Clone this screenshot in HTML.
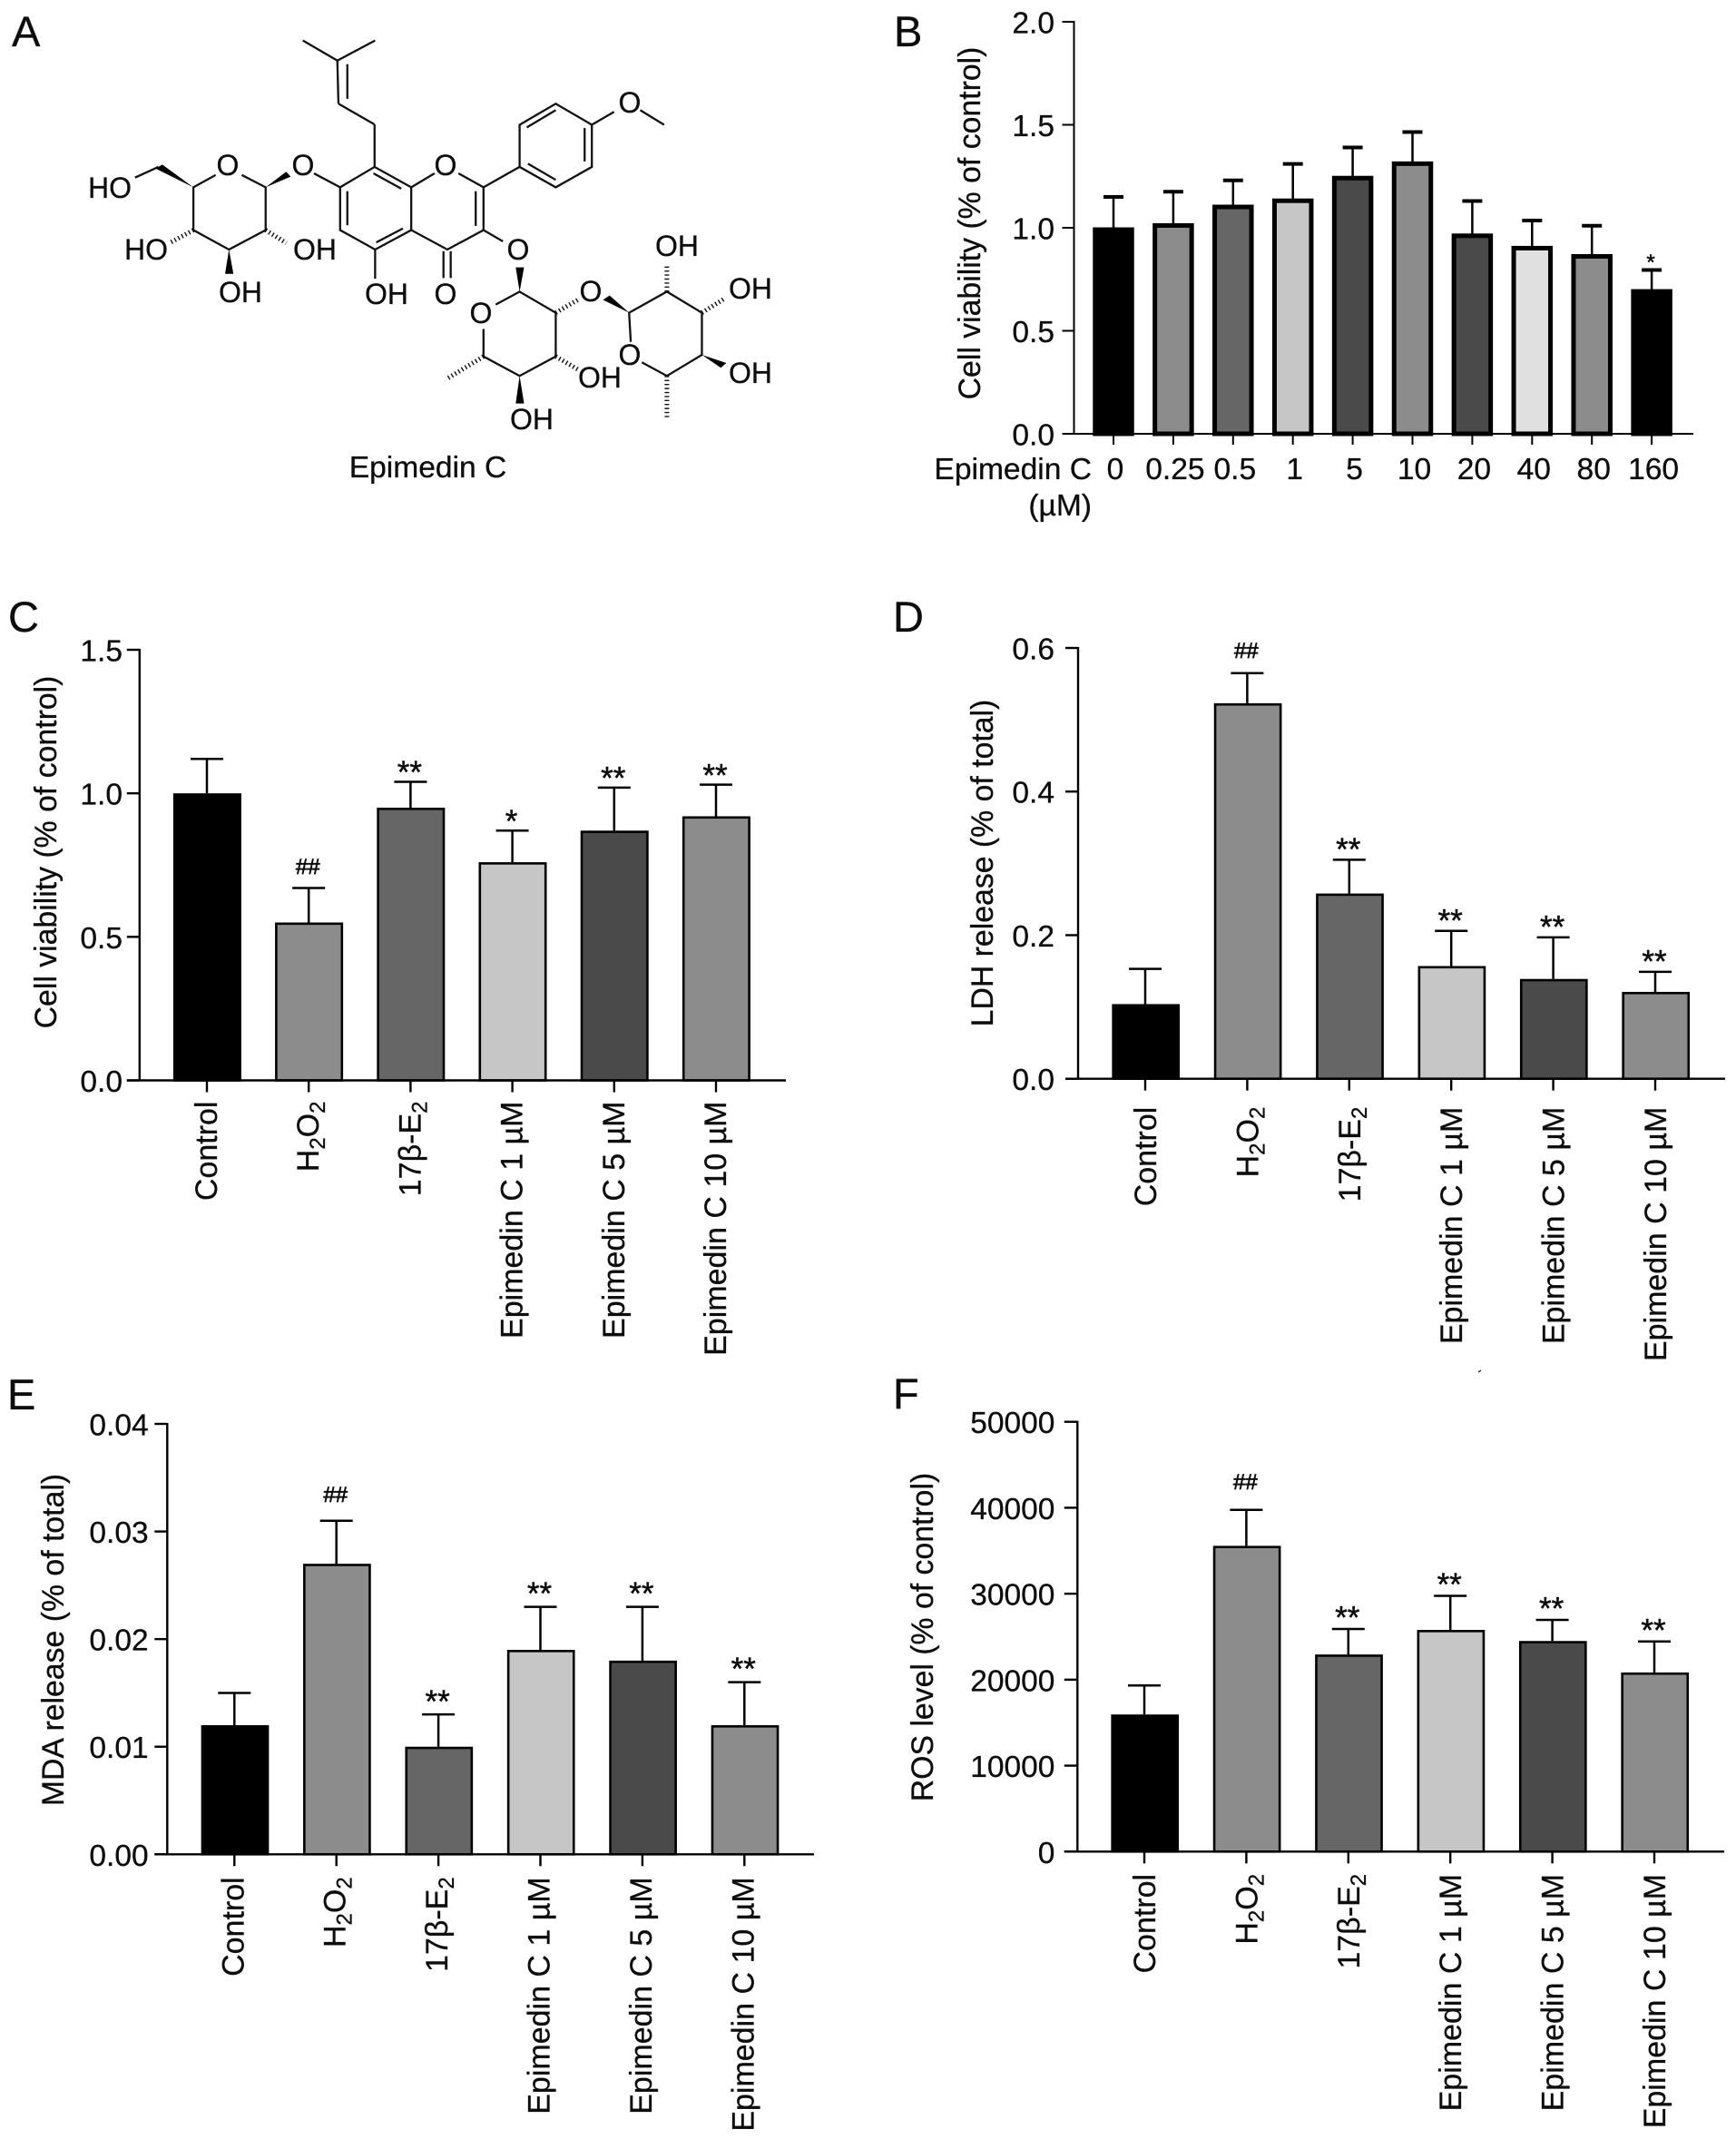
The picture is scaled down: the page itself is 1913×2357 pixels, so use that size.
<!DOCTYPE html>
<html lang="en">
<head>
<meta charset="utf-8">
<title>Epimedin C figure</title>
<style>
html,body{margin:0;padding:0;background:#fff;}
svg{display:block;}
text{font-family:"Liberation Sans",Arial,sans-serif;fill:#0d0d0d;stroke:#0d0d0d;stroke-width:.3px;}
.bond line,.bond polyline,.bond polygon{vector-effect:non-scaling-stroke;}
.bond{stroke:#111;stroke-width:2.3;fill:none;}
.hash{stroke-width:5;stroke-dasharray:1.4 3;}
.wedge{fill:#000;stroke:none;}
.atom{font-size:32px;text-anchor:middle;}
.title{font-size:33.8px;text-anchor:middle;}
.letter{font-size:47px;}
</style>
</head>
<body>
<svg id="figure" xmlns="http://www.w3.org/2000/svg" width="1913" height="2357" viewBox="0 0 1913 2357">
<rect width="1913" height="2357" fill="#fff"/>

<text class="letter" x="13" y="51">A</text>
<text class="letter" x="985" y="51">B</text>
<text class="letter" x="9" y="696">C</text>
<text class="letter" x="984" y="696">D</text>
<text class="letter" x="8" y="1553">E</text>
<text class="letter" x="984" y="1552">F</text>

<g>
<g class="bond" transform="scale(0.6124 0.3571)">
<line x1="545" y1="125" x2="607" y2="187"/><line x1="675" y1="125" x2="607" y2="187"/>
<line x1="607" y1="187" x2="609" y2="320"/><line x1="625" y1="198" x2="625" y2="305"/>
<line x1="609" y1="320" x2="674" y2="384"/><line x1="674" y1="384" x2="674" y2="515"/>
<polyline points="612,578 674,515 740,578 740,710 675,770 612,710 612,578"/>
<line x1="672" y1="535" x2="722" y2="582"/><line x1="725" y1="705" x2="677" y2="748"/><line x1="625" y1="695" x2="625" y2="590"/>
<line x1="740" y1="578" x2="782" y2="535"/><line x1="825" y1="535" x2="870" y2="578"/>
<polyline points="870,578 870,710 805,770 740,710"/><line x1="856" y1="590" x2="856" y2="697"/>
<line x1="798" y1="775" x2="798" y2="858"/><line x1="811" y1="775" x2="811" y2="858"/>
<line x1="675" y1="770" x2="675" y2="860"/><line x1="870" y1="710" x2="905" y2="745"/>
<line x1="870" y1="578" x2="935" y2="515"/>
<polygon points="935,515 935,385 1000,320 1065,385 1065,515 1000,578"/>
<line x1="948" y1="393" x2="1000" y2="340"/><line x1="950" y1="505" x2="1000" y2="555"/><line x1="1052" y1="395" x2="1052" y2="498"/>
<line x1="1065" y1="385" x2="1105" y2="345"/><line x1="1152" y1="340" x2="1195" y2="385"/>
<line x1="612" y1="578" x2="565" y2="535"/>
<polyline points="435,540 478,578 478,710 412,770 348,710 348,578 388,540"/>
<line x1="285" y1="515" x2="243" y2="548"/>
<polyline points="892,940 935,900 1000,965 1000,1100 935,1160 870,1100 870,1015"/>
<polyline points="1135,1055 1132,965 1200,900 1263,965 1263,1095 1200,1160 1155,1118"/>
<g class="hash">
<line x1="348" y1="710" x2="305" y2="750"/><line x1="478" y1="710" x2="515" y2="750"/>
<line x1="1000" y1="965" x2="1040" y2="925"/><line x1="1200" y1="900" x2="1200" y2="815"/>
<line x1="1263" y1="965" x2="1305" y2="920"/><line x1="1200" y1="1160" x2="1200" y2="1290"/>
<line x1="1000" y1="1100" x2="1040" y2="1140"/><line x1="870" y1="1100" x2="803" y2="1170"/>
</g>
<polygon class="wedge" points="478,578 515,530 523,545"/>
<polygon class="wedge" points="348,578 280,520 292,508"/>
<polygon class="wedge" points="412,770 405,845 420,845"/>
<polygon class="wedge" points="935,900 928,825 943,825"/>
<polygon class="wedge" points="1132,965 1085,925 1097,912"/>
<polygon class="wedge" points="1263,1095 1297,1135 1307,1120"/>
<polygon class="wedge" points="935,1160 928,1245 943,1245"/>
</g>
<g>
<text class="atom" x="251" y="193">O</text>
<text class="atom" x="334" y="193">O</text>
<text class="atom" x="491" y="193">O</text>
<text class="atom" x="694" y="124">O</text>
<text class="atom" x="121" y="218">HO</text>
<text class="atom" x="161" y="286">HO</text>
<text class="atom" x="347" y="286">OH</text>
<text class="atom" x="265" y="333">OH</text>
<text class="atom" x="426" y="335">OH</text>
<text class="atom" x="491" y="335">O</text>
<text class="atom" x="571" y="286">O</text>
<text class="atom" x="530" y="356">O</text>
<text class="atom" x="651" y="332">O</text>
<text class="atom" x="746" y="282">OH</text>
<text class="atom" x="827" y="329">OH</text>
<text class="atom" x="827" y="422">OH</text>
<text class="atom" x="694" y="402">O</text>
<text class="atom" x="661" y="427">OH</text>
<text class="atom" x="586" y="473">OH</text>
</g>
<text x="471.5" y="526" font-size="33.6" text-anchor="middle">Epimedin C</text>
</g>

<text class="title" transform="translate(1080,246) rotate(-90)">Cell viability (% of control)</text>
<text x="1203" y="528" font-size="33.6" text-anchor="end">Epimedin C</text>
<text x="1203" y="568" font-size="33.6" text-anchor="end">(µM)</text>
<text class="title" transform="translate(62,939) rotate(-90)">Cell viability (% of control)</text>
<text class="title" transform="translate(1094,951) rotate(-90)">LDH release (% of total)</text>
<text class="title" transform="translate(70,1807) rotate(-90)">MDA release (% of total)</text>
<text class="title" transform="translate(1028,1804) rotate(-90)">ROS level (% of control)</text>
<line x1="1629" y1="1512" x2="1632" y2="1510" stroke="#333" stroke-width="1.5"/>
</svg>

<script>
// Panel B: dose response
const bCategories = ["0","0.25","0.5","1","5","10","20","40","80","160"];
const bValues = [1.0,1.02,1.11,1.14,1.25,1.32,0.97,0.91,0.87,0.70];
const bErrors = [0.15,0.155,0.12,0.17,0.14,0.145,0.16,0.125,0.14,0.095];
const bMarks = ["","","","","","","","","","*"];
const bTicks = [0,0.5,1.0,1.5,2.0];
const bTickLabels = ["0.0","0.5","1.0","1.5","2.0"];

// Shared treatment groups for panels C-F (_ marks a subscript digit)
const treatmentCategories = ["Control","H_2O_2","17β-E_2","Epimedin C 1 µM","Epimedin C 5 µM","Epimedin C 10 µM"];

// Panel C: cell viability
const cValues = [1.0,0.55,0.95,0.76,0.87,0.92];
const cErrors = [0.12,0.12,0.09,0.11,0.15,0.11];
const cMarks = ["","##","**","*","**","**"];
const cTicks = [0,0.5,1.0,1.5];
const cTickLabels = ["0.0","0.5","1.0","1.5"];

// Panel D: LDH release
const dValues = [0.104,0.523,0.258,0.157,0.139,0.121];
const dErrors = [0.049,0.042,0.047,0.049,0.058,0.028];
const dMarks = ["","##","**","**","**","**"];
const dTicks = [0,0.2,0.4,0.6];
const dTickLabels = ["0.0","0.2","0.4","0.6"];

// Panel E: MDA release
const eValues = [0.012,0.027,0.010,0.019,0.018,0.012];
const eErrors = [0.003,0.004,0.003,0.004,0.005,0.004];
const eMarks = ["","##","**","**","**","**"];
const eTicks = [0,0.01,0.02,0.03,0.04];
const eTickLabels = ["0.00","0.01","0.02","0.03","0.04"];

// Panel F: ROS level
const fValues = [15950,35570,22930,25790,24500,20840];
const fErrors = [3375,4190,2970,3960,2450,3610];
const fMarks = ["","##","**","**","**","**"];
const fTicks = [0,10000,20000,30000,40000,50000];
const fTickLabels = ["0","10000","20000","30000","40000","50000"];

const NS = "http://www.w3.org/2000/svg";
const figure = document.getElementById("figure");

function svgEl(tag, attrs, parent) {
  const node = document.createElementNS(NS, tag);
  for (const key in attrs) node.setAttribute(key, attrs[key]);
  parent.appendChild(node);
  return node;
}

function fillRichText(node, label) {
  const parts = label.split("_");
  node.appendChild(document.createTextNode(parts[0]));
  for (let i = 1; i < parts.length; i++) {
    const sub = svgEl("tspan", {"font-size": "24", dy: "7"}, node);
    sub.textContent = parts[i].charAt(0);
    const rest = parts[i].slice(1);
    if (rest) {
      const after = svgEl("tspan", {dy: "-7"}, node);
      after.textContent = rest;
    }
  }
}

function drawChart(cfg, categories, values, errors, marks, ticks, tickLabels, shades) {
  const yMax = ticks[ticks.length - 1];
  const yScale = v => cfg.yZero - (v / yMax) * (cfg.yZero - cfg.yTop);
  const xScale = i => cfg.firstCenter + i * cfg.step;

  const group = svgEl("g", {}, figure);
  
  

  values.forEach((value, i) => {
    const cx = xScale(i);
    const top = yScale(value);
    const errorTop = yScale(value + errors[i]);

    const stem = svgEl("line", {x1: cx, x2: cx, y1: top, y2: errorTop, stroke: "#000", "stroke-width": cfg.stemWidth}, group);
    
    

    const cap = svgEl("line", {x1: cx - cfg.capWidth / 2, x2: cx + cfg.capWidth / 2, y1: errorTop, y2: errorTop, stroke: "#000", "stroke-width": cfg.capStroke}, group);
    
    

    const half = cfg.barWidth / 2 - cfg.barStroke / 2;
    const bar = svgEl("rect", {x: cx + cfg.barShift - half, y: top + cfg.barStrokeTop / 2, width: half * 2, height: Math.max(0, cfg.yZero - top - cfg.barStrokeTop / 2), fill: shades[i % shades.length], stroke: "#000", "stroke-width": cfg.barStroke}, group);
    
    

    const tick = svgEl("line", {x1: cx, x2: cx, y1: cfg.yZero, y2: cfg.yZero + cfg.xTick, stroke: "#000", "stroke-width": cfg.axisWidth}, group);
    
    

    if (cfg.rotated) {
      const label = svgEl("text", {"font-size": 34, "text-anchor": "end", transform: "translate(" + (cx + cfg.labelOffset) + "," + cfg.labelTop + ") rotate(-90)"}, group);
      fillRichText(label, categories[i]);
      
      
    } else {
      const label = svgEl("text", {"font-size": 33.6, "text-anchor": "middle", x: cx + 2, y: cfg.labelBaseline}, group);
      label.textContent = categories[i];
      
      
    }

    if (marks[i]) {
      const isHash = marks[i].charAt(0) === "#";
      const size = isHash ? 24 : cfg.starSize;
      const gap = isHash ? cfg.hashGap : cfg.starGap;
      const baseline = errorTop - gap + (isHash ? 8.5 : size * 0.56);
      const mark = svgEl("text", {"font-size": size, "text-anchor": "middle", x: cx - 1, y: baseline, style: isHash ? "stroke-width:.7px" : "stroke-width:.5px"}, group);
      mark.textContent = marks[i];
      
      
    }
  });

  const yAxis = svgEl("line", {x1: cfg.axisX, x2: cfg.axisX, y1: cfg.yTop - 1, y2: cfg.yZero, stroke: "#000", "stroke-width": cfg.axisWidth}, group);
  
  

  const xAxis = svgEl("line", {x1: cfg.axisX - cfg.yTick, x2: cfg.xEnd, y1: cfg.yZero, y2: cfg.yZero, stroke: "#000", "stroke-width": cfg.axisWidth}, group);
  
  

  ticks.forEach((tickValue, i) => {
    const ty = yScale(tickValue);
    const yTick = svgEl("line", {x1: cfg.axisX - cfg.yTick, x2: cfg.axisX, y1: ty, y2: ty, stroke: "#000", "stroke-width": cfg.axisWidth}, group);
    
    

    const yLabel = svgEl("text", {"font-size": 33.5, "text-anchor": "end", x: cfg.tickEnd, y: ty + 12.5}, group);
    yLabel.textContent = tickLabels[i];
    
    
  });
}

const shadesB = ["#000000","#8c8c8c","#666666","#c6c6c6","#4a4a4a","#8c8c8c","#4a4a4a","#e0e0e0","#8c8c8c","#000000"];
const shadesTreatment = ["#000000","#8c8c8c","#666666","#c6c6c6","#4a4a4a","#8c8c8c"];

drawChart({name:"chart-b-cell-viability",axisX:1183.5,xEnd:1866,yZero:478,yTop:24,firstCenter:1227,step:65.9,barShift:0,barWidth:45.5,barStroke:5,barStrokeTop:4,stemWidth:2.5,capWidth:22,capStroke:4,axisWidth:2,xTick:12,yTick:13,tickEnd:1162,rotated:false,labelBaseline:528,labelOffset:0,starSize:24,starGap:14,hashGap:24},
  bCategories,bValues,bErrors,bMarks,bTicks,bTickLabels,shadesB);

drawChart({name:"chart-c-cell-viability",axisX:153.8,xEnd:866,yZero:1190.5,yTop:716,firstCenter:228,step:112.2,barShift:0.4,barWidth:75,barStroke:2.6,barStrokeTop:2.6,stemWidth:2.5,capWidth:36,capStroke:2.5,axisWidth:2.4,xTick:13,yTick:14,tickEnd:135,rotated:true,labelTop:1213.5,labelOffset:11,starSize:35,starGap:18,hashGap:24},
  treatmentCategories,cValues,cErrors,cMarks,cTicks,cTickLabels,shadesTreatment);

drawChart({name:"chart-d-ldh-release",axisX:1188,xEnd:1901,yZero:1188.7,yTop:714,firstCenter:1262,step:112.4,barShift:0.7,barWidth:74.7,barStroke:2.6,barStrokeTop:2.6,stemWidth:2.5,capWidth:36,capStroke:2.5,axisWidth:2.4,xTick:13,yTick:14,tickEnd:1162,rotated:true,labelTop:1219.7,labelOffset:12,starSize:35,starGap:19,hashGap:25},
  treatmentCategories,dValues,dErrors,dMarks,dTicks,dTickLabels,shadesTreatment);

drawChart({name:"chart-e-mda-release",axisX:184.3,xEnd:897,yZero:2043.3,yTop:1569,firstCenter:258.3,step:112.4,barShift:0.7,barWidth:74.7,barStroke:2.6,barStrokeTop:2.6,stemWidth:2.5,capWidth:36,capStroke:2.5,axisWidth:2.4,xTick:13,yTick:14,tickEnd:163.6,rotated:true,labelTop:2068.3,labelOffset:10,starSize:35,starGap:22,hashGap:29},
  treatmentCategories,eValues,eErrors,eMarks,eTicks,eTickLabels,shadesTreatment);

drawChart({name:"chart-f-ros-level",axisX:1187.3,xEnd:1900,yZero:2040.3,yTop:1566.7,firstCenter:1261,step:112.4,barShift:0.7,barWidth:74.7,barStroke:2.6,barStrokeTop:2.6,stemWidth:2.5,capWidth:36,capStroke:2.5,axisWidth:2.4,xTick:13,yTick:14.5,tickEnd:1162.4,rotated:true,labelTop:2064.9,labelOffset:12,starSize:35,starGap:20,hashGap:31},
  treatmentCategories,fValues,fErrors,fMarks,fTicks,fTickLabels,shadesTreatment);
</script>
</body>
</html>
